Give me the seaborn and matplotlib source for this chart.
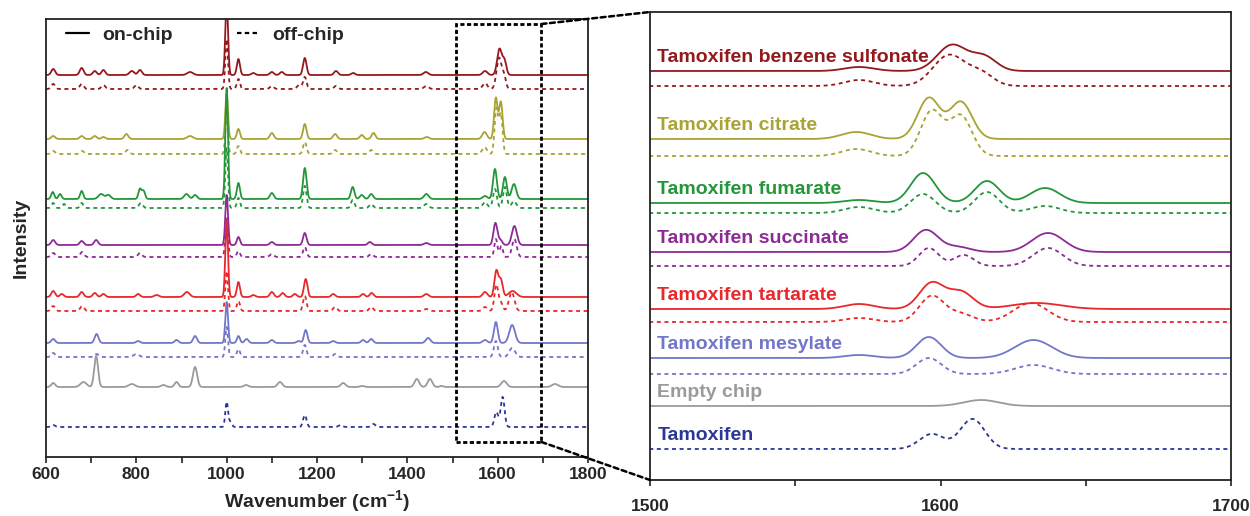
import numpy as np
import pandas as pd
import matplotlib
matplotlib.use('Agg')
import matplotlib.pyplot as plt
import seaborn as sns
from matplotlib.lines import Line2D
from matplotlib.patches import Rectangle, ConnectionPatch

# Samples, top to bottom
samples = ["Tamoxifen benzene sulfonate", "Tamoxifen citrate", "Tamoxifen fumarate",
           "Tamoxifen succinate", "Tamoxifen tartarate", "Tamoxifen mesylate",
           "Empty chip", "Tamoxifen"]
colors = ["#94191c", "#a8a332", "#23963a", "#8c2b95", "#e8282b", "#7276c8", "#9a9a9a", "#2b3795"]

# Raman bands: (wavenumber, height, FWHM)
bs_on = [(616, 6, 10), (679, 7, 10), (708, 4, 10), (727, 5, 10), (790, 4, 12), (808, 5, 10),
         (919, 3, 15), (1000, 75, 7), (1026, 16, 8), (1059, 2, 10), (1100, 3, 10), (1122, 3, 10),
         (1173, 17, 9), (1242, 4, 10), (1280, 2, 10), (1441, 3, 12), (1572, 4, 12),
         (1604, 26, 12), (1615, 14, 10)]
bs_off = [(616, 5, 10), (679, 5, 10), (727, 4, 10), (800, 4, 10), (1000, 50, 7), (1026, 10, 8),
          (1100, 3, 10), (1160, 4, 10), (1173, 12, 9), (1242, 3, 10), (1442, 3, 12), (1572, 6, 12),
          (1603, 31, 13), (1614, 12, 10)]
citrate_on = [(616, 3, 10), (679, 3, 10), (708, 3, 10), (727, 2, 10), (778, 5, 10), (919, 3, 15),
              (1000, 45, 7), (1026, 10, 8), (1100, 6, 10), (1173, 15, 9), (1240, 5, 10),
              (1299, 4, 10), (1325, 6, 10), (1443, 2, 12), (1571, 7, 12), (1596, 41, 9), (1607, 37, 9)]
citrate_off = [(616, 3, 10), (680, 3, 10), (780, 4, 10), (1000, 40, 7), (1026, 8, 8), (1173, 12, 9),
               (1240, 4, 10), (1320, 4, 10), (1571, 7, 12), (1597, 45, 9), (1607, 40, 9)]
fumarate_on = [(615, 7, 8), (631, 5, 8), (679, 8, 8), (722, 5, 14), (738, 4, 12), (808, 10, 8),
               (816, 8, 8), (911, 5, 12), (930, 4, 10), (1000, 111, 7), (1026, 16, 8), (1100, 6, 10),
               (1173, 31, 9), (1279, 12, 9), (1299, 4, 10), (1320, 5, 10), (1442, 5, 12),
               (1572, 3, 12), (1594, 30, 10), (1616, 22, 10), (1636, 15, 12)]
fumarate_off = [(616, 5, 8), (640, 4, 8), (679, 5, 8), (810, 5, 10), (1000, 60, 7), (1026, 10, 8),
                (1173, 22, 9), (1279, 8, 9), (1320, 4, 10), (1442, 4, 12), (1572, 6, 12),
                (1594, 19, 10), (1616, 21, 10), (1636, 7, 12)]
succinate_on = [(616, 5, 10), (679, 4, 10), (711, 5, 10), (1000, 50, 7), (1026, 8, 8), (1100, 3, 10),
                (1173, 12, 9), (1317, 3, 10), (1442, 2, 12), (1595, 22, 10), (1606, 5, 10),
                (1637, 19, 13)]
succinate_off = [(616, 4, 10), (680, 5, 10), (808, 4, 10), (1000, 40, 7), (1026, 6, 8), (1100, 3, 10),
                 (1173, 10, 9), (1320, 3, 10), (1596, 18, 8), (1608, 11, 8), (1637, 18, 12)]
tartarate_on = [(616, 6, 10), (635, 3, 10), (679, 5, 10), (708, 4, 10), (727, 3, 10), (804, 3, 10),
                (845, 2, 12), (912, 5, 14), (1000, 77, 7), (1026, 15, 8), (1059, 2, 10), (1100, 5, 10),
                (1124, 4, 10), (1151, 3, 10), (1175, 18, 9), (1236, 3, 10), (1302, 3, 10),
                (1321, 4, 10), (1442, 3, 12), (1572, 5, 12), (1597, 26, 10), (1607, 17, 10),
                (1633, 6, 20)]
tartarate_off = [(616, 5, 10), (680, 5, 10), (1000, 40, 7), (1026, 10, 8), (1173, 15, 9), (1240, 4, 10),
                 (1320, 4, 10), (1442, 2, 12), (1572, 4, 12), (1597, 26, 10), (1607, 8, 10),
                 (1631, 19, 14)]
mesylate_on = [(616, 4, 10), (712, 9, 10), (804, 2, 10), (889, 3, 10), (930, 7, 10), (1000, 41, 7),
               (1026, 7, 8), (1044, 4, 10), (1100, 3, 10), (1159, 2, 10), (1175, 13, 9), (1236, 2, 10),
               (1302, 3, 10), (1320, 4, 10), (1446, 5, 12), (1572, 3, 12), (1596, 21, 10),
               (1632, 18, 15)]
mesylate_off = [(616, 4, 10), (712, 3, 10), (800, 3, 14), (1000, 30, 7), (1026, 8, 8), (1173, 12, 9),
                (1240, 3, 10), (1596, 16, 10), (1632, 9, 15)]
empty_on = [(616, 4, 10), (683, 5, 16), (711, 31, 10), (790, 3, 16), (860, 2, 12), (889, 5, 10),
            (930, 20, 11), (1043, 2, 12), (1118, 5, 12), (1258, 4, 12), (1300, 1, 12), (1421, 8, 12),
            (1450, 8, 12), (1476, 1, 10), (1614, 6, 14), (1727, 3, 16)]
tamoxifen_off = [(616, 2, 10), (1000, 25, 7), (1008, 5, 8), (1173, 12, 9), (1252, 2, 10),
                 (1325, 3, 10), (1597, 15, 10), (1611, 30, 10)]

spectra_on = [bs_on, citrate_on, fumarate_on, succinate_on, tartarate_on, mesylate_on, empty_on, None]
spectra_off = [bs_off, citrate_off, fumarate_off, succinate_off, tartarate_off, mesylate_off, None,
               tamoxifen_off]

# stacking offsets (full range panel / zoomed panel)
left_on = [382, 318, 258, 212, 160, 114, 70, None]
left_off = [368, 303, 249, 200, 146, 100, None, 30]
right_on = [409, 341, 277, 228, 171, 122, 74, None]
right_off = [394, 324, 267, 214, 158, 106, None, 31]

wn = np.linspace(600, 1800, 4801)


def spectrum(bands):
    y = np.zeros_like(wn)
    for c, h, w in bands:
        y += h * np.exp(-4 * np.log(2) * (wn - c) ** 2 / w ** 2)
    return y


rows = []
for i, name in enumerate(samples):
    for cond, spec, lo, ro in [("on-chip", spectra_on[i], left_on[i], right_on[i]),
                               ("off-chip", spectra_off[i], left_off[i], right_off[i])]:
        if spec is None:
            continue
        y = spectrum(spec)
        rows.append(pd.DataFrame({"wavenumber": wn, "left": y + lo, "right": y + ro,
                                  "sample": name, "condition": cond}))
df = pd.concat(rows, ignore_index=True)

sns.set_style("ticks")
plt.rcParams['font.family'] = ['Liberation Sans', 'DejaVu Sans']
plt.rcParams['font.weight'] = 'bold'
plt.rcParams['axes.labelweight'] = 'bold'
plt.rcParams['mathtext.fontset'] = 'custom'
plt.rcParams['mathtext.rm'] = 'Liberation Sans:bold'
plt.rcParams['mathtext.bf'] = 'Liberation Sans:bold'

fig = plt.figure(figsize=(12.5, 5.16), dpi=100)
ax1 = fig.add_axes([46 / 1250, 1 - 457 / 516, 542 / 1250, 438 / 516])
ax2 = fig.add_axes([650 / 1250, 1 - 480 / 516, 581 / 1250, 468 / 516])

dash_map = {"on-chip": "", "off-chip": (2.2, 2.0)}
for ax, col in [(ax1, "left"), (ax2, "right")]:
    sns.lineplot(data=df, x="wavenumber", y=col, hue="sample", style="condition",
                 hue_order=samples, style_order=["on-chip", "off-chip"], palette=colors,
                 dashes=dash_map, estimator=None, sort=False, legend=False, lw=1.3, ax=ax)
    ax.set_yticks([])
    ax.set_ylabel("")
    for s in ax.spines.values():
        s.set_linewidth(1.3)
        s.set_color("#222222")
    ax.tick_params(axis='x', which='both', length=4.5, width=1.2, labelsize=12.5, color="#222222")

ax1.set_xlim(600, 1800)
ax1.set_ylim(0, 438)
ax1.set_xticks(np.arange(600, 1801, 200))
ax1.set_xticks(np.arange(700, 1800, 200), minor=True)
ax1.tick_params(axis='x', pad=3)
ax1.set_xlabel(r'Wavenumber (cm$^{\mathbf{-1}}$)', fontsize=14, labelpad=4)
ax1.set_ylabel("Intensity", fontsize=14, labelpad=12)

ax2.set_xlim(1500, 1700)
ax2.set_ylim(0, 468)
ax2.set_xticks([1500, 1600, 1700])
ax2.set_xticks([1550, 1650], minor=True)
ax2.tick_params(axis='x', pad=9)
ax2.set_xlabel("")

for i, name in enumerate(samples):
    base = right_on[i] if right_on[i] is not None else right_off[i]
    ax2.text(1502.5, base + 9, name, color=colors[i], fontsize=14, fontweight='bold',
             va='baseline', ha='left')

handles = [Line2D([], [], color='black', lw=1.6),
           Line2D([], [], color='black', lw=1.6, ls=(0, (2.0, 1.5)))]
ax1.legend(handles, ["on-chip", "off-chip"], loc='upper left', ncol=2, frameon=False,
           bbox_to_anchor=(20 / 542, 1 - 7 / 438), borderaxespad=0, borderpad=0,
           handlelength=1.2, handletextpad=0.65, columnspacing=3.3,
           prop={'size': 14, 'weight': 'bold'})

# zoom box and connectors
box = Rectangle((1508, 15), 189, 418, fill=False, ec='black', lw=2.0, ls=(0, (1.5, 0.9)), zorder=5)
ax1.add_patch(box)
for yb, yr in [(433, 1), (15, 0)]:
    con = ConnectionPatch(xyA=(1697, yb), coordsA=ax1.transData, xyB=(0, yr),
                          coordsB=ax2.transAxes, color='black', lw=1.8, ls=(0, (2.0, 1.4)))
    fig.add_artist(con)

fig.savefig("out.png", dpi=100)
